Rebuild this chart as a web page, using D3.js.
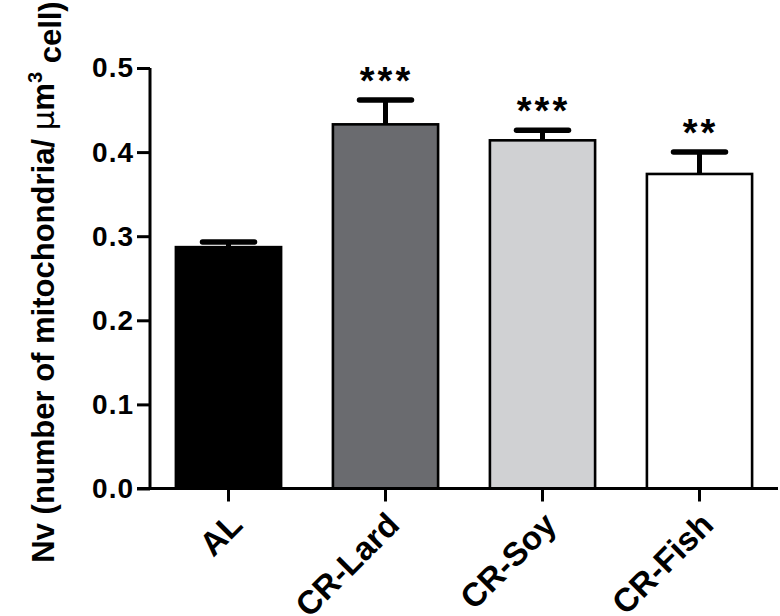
<!DOCTYPE html>
<html>
<head>
<meta charset="utf-8">
<script src="https://cdn.jsdelivr.net/npm/d3@7"></script>
<style>
  body { margin: 0; background: #fff; }
  svg { display: block; font-family: "Liberation Sans", Arial, sans-serif; font-weight: bold; }
</style>
</head>
<body>
<svg width="780" height="616"></svg>
<script>
// bar chart data
var groups = ["AL", "CR-Lard", "CR-Soy", "CR-Fish"];
var means = [0.287, 0.433, 0.414, 0.374];
var sems = [0.006, 0.029, 0.012, 0.026];
var stars = ["", "***", "***", "**"];
var fills = ["#000000", "#6a6b6f", "#d0d1d3", "#ffffff"];
var yTicks = [0.0, 0.1, 0.2, 0.3, 0.4, 0.5];

var svg = d3.select("svg"),
    plotLeft = 150, plotRight = 778, plotTop = 68, plotBottom = 488.5;

var x = d3.scaleBand()
    .domain(groups)
    .range([plotLeft, plotRight])
    .paddingInner(0.33)
    .paddingOuter(0.165);

var y = d3.scaleLinear()
    .domain([0, 0.5])
    .range([plotBottom, plotTop]);

// bars
svg.selectAll(".bar")
    .data(groups)
    .enter().append("rect")
    .attr("class", "bar")
    .attr("x", function(d) { return x(d); })
    .attr("width", x.bandwidth())
    .attr("y", function(d, i) { return y(means[i]); })
    .attr("height", function(d, i) { return plotBottom - y(means[i]); })
    .style("fill", function(d, i) { return fills[i]; })
    .style("stroke", "#000")
    .style("stroke-width", 2.6);

// error bars (upper only)
var err = svg.selectAll(".err")
    .data(groups)
    .enter().append("g")
    .attr("class", "err")
    .attr("transform", function(d) { return "translate(" + (x(d) + x.bandwidth() / 2) + ",0)"; });

err.append("line")
    .attr("y1", function(d, i) { return y(means[i]); })
    .attr("y2", function(d, i) { return y(means[i] + sems[i]); })
    .style("stroke", "#000")
    .style("stroke-width", 5);

err.append("line")
    .attr("x1", -26).attr("x2", 26)
    .attr("y1", function(d, i) { return y(means[i] + sems[i]); })
    .attr("y2", function(d, i) { return y(means[i] + sems[i]); })
    .style("stroke", "#000")
    .style("stroke-width", 5.5)
    .style("stroke-linecap", "round");

// significance stars
err.append("text")
    .attr("y", function(d, i) { return y(means[i] + sems[i]) - 6; })
    .attr("x", 1)
    .attr("text-anchor", "middle")
    .style("font-size", "38px")
    .style("letter-spacing", "3px")
    .text(function(d, i) { return stars[i]; });

// y axis
var yAxis = svg.append("g")
    .attr("transform", "translate(" + plotLeft + ",0)")
    .call(d3.axisLeft(y).tickValues(yTicks).tickFormat(d3.format(".1f")).tickSize(13).tickPadding(3));

// x axis
var xAxis = svg.append("g")
    .attr("transform", "translate(0," + plotBottom + ")")
    .call(d3.axisBottom(x).tickSize(13).tickFormat(""));

xAxis.select(".domain").attr("d", "M" + (plotLeft - 13) + ",0H" + plotRight);
yAxis.select(".domain").attr("d", "M0," + plotBottom + "V" + plotTop);

svg.selectAll(".domain, .tick line")
    .style("stroke", "#000")
    .style("stroke-width", 3);

yAxis.selectAll("text")
    .style("font-size", "28px")
    .style("letter-spacing", "1px")
    .style("font-family", "Liberation Sans, Arial, sans-serif")
    .style("font-weight", "bold")
    .style("fill", "#000");

// rotated category labels
svg.selectAll(".xlab")
    .data(groups)
    .enter().append("text")
    .attr("class", "xlab")
    .attr("text-anchor", "end")
    .style("font-size", "33px")
    .attr("transform", function(d) {
        return "translate(" + (x(d) + x.bandwidth() / 2 - 1) + ",510) rotate(-45)";
    })
    .attr("dy", "0.72em")
    .text(function(d) { return d; });

// y axis title
var title = svg.append("text")
    .attr("transform", "translate(54,282) rotate(-90)")
    .attr("text-anchor", "middle")
    .style("font-size", "31px");
title.append("tspan").text("Nv (number of mitochondria/ ");
title.append("tspan").style("font-weight", "normal").style("font-family", "DejaVu Sans, sans-serif").text("\u03bc");
title.append("tspan").text("m");
title.append("tspan").attr("dy", "-0.6em").style("font-size", "20px").text("3");
title.append("tspan").attr("dy", "0.6em").text(" cell)");
</script>
</body>
</html>
